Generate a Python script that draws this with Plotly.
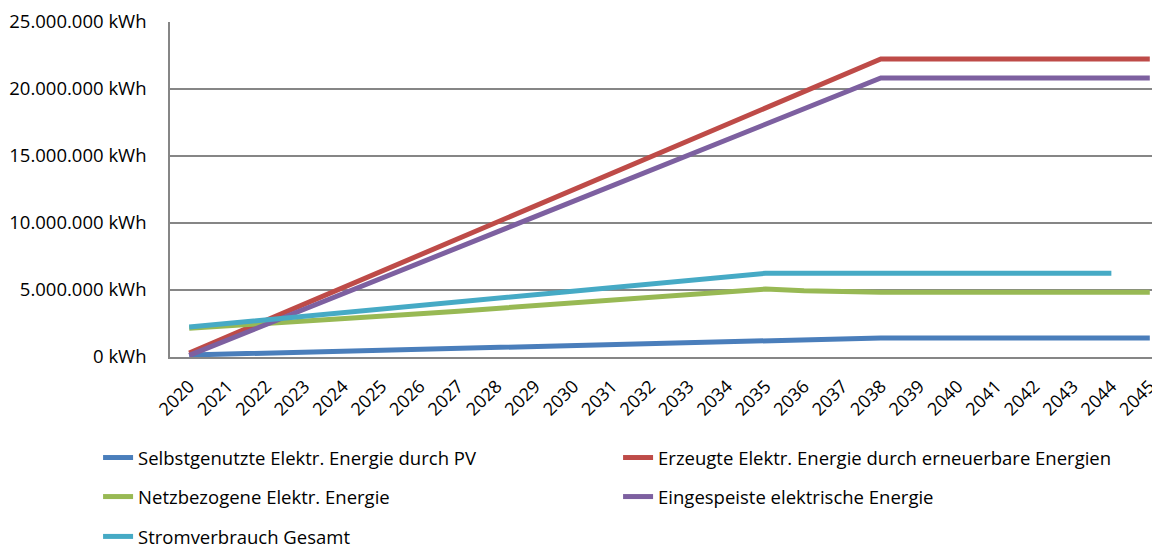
import plotly.graph_objects as go

years = [str(y) for y in range(2020, 2046)]

selbst = [0.15e6, 0.22e6, 0.29e6, 0.37e6, 0.44e6, 0.51e6, 0.58e6, 0.66e6, 0.73e6, 0.80e6,
          0.87e6, 0.95e6, 1.02e6, 1.09e6, 1.17e6, 1.25e6, 1.31e6, 1.37e6, 1.42e6,
          1.42e6, 1.42e6, 1.42e6, 1.42e6, 1.42e6, 1.42e6, 1.42e6]
erzeugt = [0.30e6, 1.52e6, 2.74e6, 3.96e6, 5.18e6, 6.40e6, 7.62e6, 8.84e6, 10.06e6, 11.28e6,
           12.50e6, 13.72e6, 14.94e6, 16.16e6, 17.38e6, 18.60e6, 19.82e6, 21.04e6, 22.24e6,
           22.24e6, 22.24e6, 22.24e6, 22.24e6, 22.24e6, 22.24e6, 22.24e6]
netz = [2.14e6, 2.31e6, 2.48e6, 2.66e6, 2.85e6, 3.04e6, 3.23e6, 3.42e6, 3.62e6, 3.82e6,
        4.02e6, 4.22e6, 4.43e6, 4.64e6, 4.85e6, 5.07e6, 4.94e6, 4.85e6, 4.83e6,
        4.83e6, 4.83e6, 4.83e6, 4.83e6, 4.83e6, 4.83e6, 4.83e6]
eingespeist = [0.12e6, 1.27e6, 2.42e6, 3.57e6, 4.72e6, 5.87e6, 7.02e6, 8.17e6, 9.32e6, 10.47e6,
               11.62e6, 12.77e6, 13.92e6, 15.07e6, 16.22e6, 17.37e6, 18.52e6, 19.67e6, 20.82e6,
               20.82e6, 20.82e6, 20.82e6, 20.82e6, 20.82e6, 20.82e6, 20.82e6]
gesamt = [2.24e6, 2.51e6, 2.78e6, 3.04e6, 3.31e6, 3.58e6, 3.85e6, 4.11e6, 4.38e6, 4.65e6,
          4.92e6, 5.18e6, 5.45e6, 5.72e6, 5.99e6, 6.25e6, 6.25e6, 6.25e6, 6.25e6,
          6.25e6, 6.25e6, 6.25e6, 6.25e6, 6.25e6, 6.25e6, None]

y_tickvals = [0, 5e6, 10e6, 15e6, 20e6, 25e6]
y_ticktext = ["0 kWh", "5.000.000 kWh", "10.000.000 kWh", "15.000.000 kWh",
              "20.000.000 kWh", "25.000.000 kWh"]

series = [
    ("Selbstgenutzte Elektr. Energie durch PV", selbst, "#4a7ebb", "legend"),
    ("Erzeugte Elektr. Energie durch erneuerbare Energien", erzeugt, "#be4b48", "legend"),
    ("Netzbezogene Elektr. Energie", netz, "#98b954", "legend2"),
    ("Eingespeiste elektrische Energie", eingespeist, "#7d60a0", "legend2"),
    ("Stromverbrauch Gesamt", gesamt, "#46aac5", "legend3"),
]

FONT = "Open Sans"
fig = go.Figure()
for name, vals, color, lg in series:
    fig.add_trace(go.Scatter(x=years, y=vals, mode="lines", name=name,
                             line=dict(color=color, width=5),
                             legend=lg, connectgaps=False))

legend_common = dict(orientation="h", xanchor="left", yanchor="middle",
                     entrywidth=475, entrywidthmode="pixels",
                     font=dict(family=FONT, size=18.5, color="#000000"),
                     bgcolor="rgba(0,0,0,0)", itemwidth=30)

LX = -0.072
fig.update_layout(
    width=1170, height=548,
    margin=dict(l=162, r=9, t=14, b=199, autoexpand=False),
    paper_bgcolor="white", plot_bgcolor="white",
    font=dict(family=FONT, color="#000000"),
    showlegend=True,
    legend=dict(x=LX, y=-0.3015, **legend_common),
    legend2=dict(x=LX, y=-0.418, **legend_common),
    legend3=dict(x=LX, y=-0.537, **legend_common),
    xaxis=dict(type="category", range=[-0.5, 25.5], tickangle=-45,
               tickfont=dict(family=FONT, size=18), showgrid=False,
               showline=True, linecolor="#868686", linewidth=1.5,
               ticks="", ticklabelstandoff=10, automargin=False),
    yaxis=dict(range=[0, 25e6], tickvals=y_tickvals, ticktext=y_ticktext,
               tickfont=dict(family=FONT, size=18.5), showgrid=True,
               gridcolor="#868686", gridwidth=1.5, zeroline=False,
               showline=True, linecolor="#868686", linewidth=1.5,
               ticklabelstandoff=18, automargin=False),
)

fig.write_html("out.html")
